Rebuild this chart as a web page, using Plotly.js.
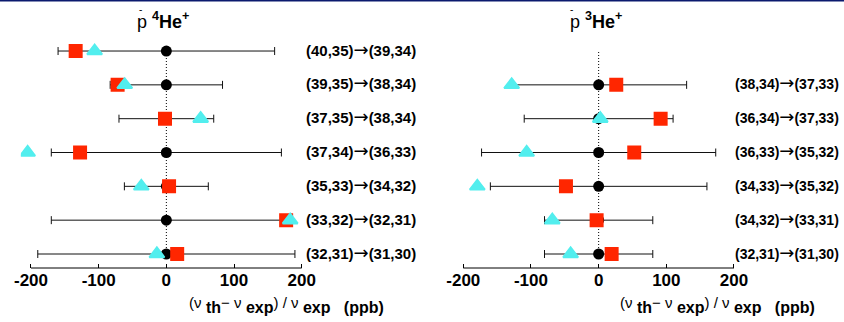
<!DOCTYPE html>
<html>
<head>
<meta charset="utf-8">
<script src="https://cdn.plot.ly/plotly-3.0.1.min.js"></script>
<style>
  html, body { margin: 0; padding: 0; background: #fff; }
  #chart { width: 844px; height: 322px; }
</style>
</head>
<body>
<div id="chart"></div>
<script>
// ---------------- data ----------------
const leftTransitions = ["(40,35)→(39,34)", "(39,35)→(38,34)", "(37,35)→(38,34)", "(37,34)→(36,33)", "(35,33)→(34,32)", "(33,32)→(32,31)", "(32,31)→(31,30)"];
const leftExp = [0, 0, 0, 0, 0, 0, 0];
const leftExpErr = [160, 83, 70, 170, 62, 170, 190];
const leftTheoryA = [-134, -72, -2, -127.5, 4, 177, 16];      // red squares
const leftTheoryB = [-106, -61.5, 50.7, -205, -37, 183, -14]; // cyan triangles

const rightTransitions = ["(38,34)→(37,33)", "(36,34)→(37,33)", "(36,33)→(35,32)", "(34,33)→(35,32)", "(34,32)→(33,31)", "(32,31)→(31,30)"];
const rightExp = [0, 0, 0, 0, 0, 0];
const rightExpErr = [130, 110, 173, 160, 80, 80];
const rightTheoryA = [26, 91.6, 52.6, -48.3, -3, 19.2];
const rightTheoryB = [-128.5, 2.4, -106.4, -179.3, -68.5, -41.4];

const tickVals = [-200, -100, 0, 100, 200];
const axisEnds = [-200, 200];
const nRows = 7;

// ---------------- layout helpers ----------------
const W = 844, H = 322, MB = 54, PH = H - MB;
const px2x = p => p / W;
const px2y = p => (PH - p) / PH;
const FONT = "Liberation Sans, Arial, Helvetica, sans-serif";
const PAD = 15; // extra range beyond the axis ends so outlying markers stay visible

const leftRows = leftTransitions.map((_, i) => nRows - i);
const rightRows = rightTransitions.map((_, i) => (nRows - 1) - i);

function panelTraces(xa, rows, exp, err, a, b) {
  return [
    {
      type: "scatter", mode: "markers", xaxis: xa, yaxis: "y",
      x: exp, y: rows, hoverinfo: "skip",
      marker: { symbol: "circle", size: 11, color: "#000" },
      error_x: { type: "data", array: err, visible: true, color: "#111", thickness: 1, width: 4 }
    },
    {
      type: "scatter", mode: "markers", xaxis: xa, yaxis: "y",
      x: a, y: rows, hoverinfo: "skip",
      marker: { symbol: "square", size: 14, color: "#ff2600" }
    },
    {
      type: "scatter", mode: "markers", xaxis: xa, yaxis: "y",
      x: b, y: rows, hoverinfo: "skip",
      marker: { symbol: "triangle-up", size: 13, color: "#52eeee", line: { color: "#52eeee", width: 2 } }
    }
  ];
}

const data = [
  ...panelTraces("x", leftRows, leftExp, leftExpErr, leftTheoryA, leftTheoryB),
  ...panelTraces("x2", rightRows, rightExp, rightExpErr, rightTheoryA, rightTheoryB)
];

// domain from the pixel positions of the axis ends, widened by PAD units each side
function domainFor(pLo, pHi) {
  const scale = (pHi - pLo) / (axisEnds[1] - axisEnds[0]);
  return [px2x(pLo - PAD * scale), px2x(pHi + PAD * scale)];
}

function xAxis(domain) {
  return {
    domain: domain, range: [axisEnds[0] - PAD, axisEnds[1] + PAD], anchor: "y",
    tickvals: tickVals, ticktext: tickVals.map(String),
    ticks: "inside", ticklen: 4, tickwidth: 1, tickcolor: "#000",
    showline: false, showgrid: false, zeroline: false, fixedrange: true,
    tickfont: { family: FONT, size: 17, color: "#000", weight: "bold" }
  };
}

const vspan = s => '<span style="font-weight:normal;font-size:15px;baseline-shift:5px">' + s + '</span>';
const axisTitle = vspan("(ν") + " th" + vspan("− ν") + " exp" + vspan(") / ν") + " exp   (ppb)";
const arrow = '<span style="font-family:DejaVu Sans;font-weight:normal;font-size:18px">→</span>';

const annotations = [];
function addLabels(list, rows, xpx, size) {
  list.forEach((t, i) => {
    annotations.push({
      xref: "paper", yref: "y", x: px2x(xpx), y: rows[i], yshift: 2,
      xanchor: "left", yanchor: "middle", showarrow: false, text: t.replace("→", arrow),
      font: { family: FONT, size: size, color: "#000", weight: "bold" }
    });
  });
}
addLabels(leftTransitions, leftRows, 304, 15);
addLabels(rightTransitions, rightRows, 733, 14);

function addTitle(cx, barx, mass) {
  annotations.push({
    xref: "paper", yref: "paper", x: px2x(cx), y: px2y(21),
    xanchor: "center", yanchor: "middle", showarrow: false,
    text: '<span style="font-weight:normal">p</span> <sup>' + mass + '</sup>He<sup>+</sup>',
    font: { family: FONT, size: 18, color: "#000", weight: "bold" }
  });
  annotations.push({
    xref: "paper", yref: "paper", x: px2x(barx), y: px2y(9),
    xanchor: "center", yanchor: "middle", showarrow: false, text: "-",
    font: { family: FONT, size: 10, color: "#000" }
  });
}
addTitle(162.5, 140, 4);
addTitle(596, 571.5, 3);

[[286, 305], [717, 305]].forEach(([cx, cy]) => {
  annotations.push({
    xref: "paper", yref: "paper", x: px2x(cx), y: px2y(cy),
    xanchor: "center", yanchor: "middle", showarrow: false, text: axisTitle,
    font: { family: FONT, size: 16, color: "#000", weight: "bold" }
  });
});

const shapes = [
  { type: "line", xref: "x", yref: "y", x0: 0, x1: 0, y0: 1, y1: nRows, layer: "below",
    line: { color: "#000", width: 1, dash: "1px,2px" } },
  { type: "line", xref: "x2", yref: "y", x0: 0, x1: 0, y0: 1, y1: nRows, layer: "below",
    line: { color: "#000", width: 1, dash: "1px,2px" } },
  { type: "line", xref: "x", yref: "paper", x0: axisEnds[0], x1: axisEnds[1], y0: 0, y1: 0,
    line: { color: "#000", width: 1 } },
  { type: "line", xref: "x2", yref: "paper", x0: axisEnds[0], x1: axisEnds[1], y0: 0, y1: 0,
    line: { color: "#000", width: 1 } },
  { type: "rect", xref: "paper", yref: "paper", x0: 0, x1: 1, y0: px2y(1.5), y1: px2y(-2), layer: "above",
    fillcolor: "#0b1a6e", line: { width: 0 } }
];

const layout = {
  width: W, height: H,
  margin: { l: 0, r: 0, t: 0, b: MB, pad: 0 },
  paper_bgcolor: "#fff", plot_bgcolor: "#fff",
  showlegend: false,
  font: { family: FONT, color: "#000" },
  xaxis: xAxis(domainFor(31, 301.7)),
  xaxis2: xAxis(domainFor(463.3, 734)),
  yaxis: { range: [1 - 14 / 33.83, 1 + 254 / 33.83], visible: false, fixedrange: true },
  annotations: annotations,
  shapes: shapes
};

Plotly.newPlot("chart", data, layout, { displayModeBar: false, staticPlot: true });
</script>
</body>
</html>
